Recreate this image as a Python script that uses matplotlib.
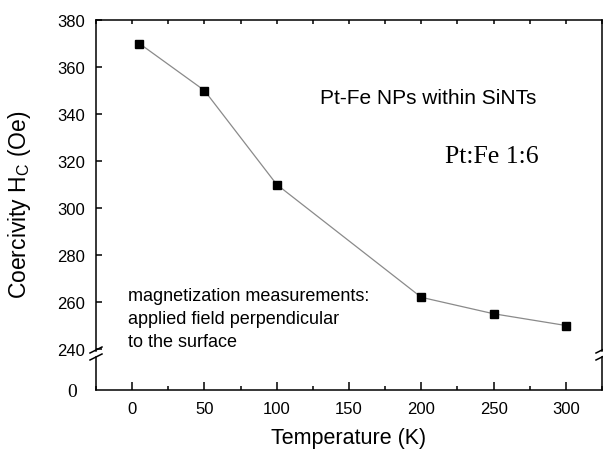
import matplotlib
matplotlib.use("Agg")
import matplotlib.pyplot as plt
from matplotlib.lines import Line2D
from matplotlib.ticker import MultipleLocator

temperature = [5, 50, 100, 200, 250, 300]
coercivity = [370, 350, 310, 262, 255, 250]
x_ticks = [0, 50, 100, 150, 200, 250, 300]
y_ticks = [240, 260, 280, 300, 320, 340, 360, 380]

plt.rcParams['font.family'] = ['Liberation Sans', 'DejaVu Sans']
plt.rcParams['mathtext.fontset'] = 'custom'
plt.rcParams['mathtext.rm'] = 'Liberation Sans'
plt.rcParams['mathtext.it'] = 'Liberation Sans:italic'

W, H = 603, 452
fig = plt.figure(figsize=(W / 100, H / 100), dpi=100)

left = 96 / W
width = (602 - 96) / W
ax = fig.add_axes([left, 1 - 352 / H, width, 331 / H])
axb = fig.add_axes([left, 1 - 391 / H, width, 33 / H])

lw = 1.1
for a in (ax, axb):
    for s in a.spines.values():
        s.set_linewidth(lw)
    a.set_xlim(-25, 325)

ax.plot(temperature, coercivity, color='#8a8a8a', lw=0.9, zorder=2)
ax.plot(temperature, coercivity, ls='none', marker='s', ms=5.5,
        color='black', zorder=3)
ax.set_ylim(239.15, 380)
ax.set_yticks(y_ticks)
ax.spines['bottom'].set_visible(False)
ax.tick_params(axis='y', direction='in', length=4.3, width=lw,
               labelsize=12, pad=8, right=False)
ax.xaxis.set_major_locator(MultipleLocator(50))
ax.xaxis.set_minor_locator(MultipleLocator(25))
ax.tick_params(axis='x', which='both', direction='in', bottom=False,
               top=True, labelbottom=False, length=3, width=lw)

axb.set_ylim(0, 14)
axb.set_yticks([0])
axb.set_yticklabels(['0'], family=['Liberation Serif'], fontsize=14)
axb.spines['top'].set_visible(False)
axb.tick_params(axis='y', direction='in', length=0, pad=14)
axb.set_xticks(x_ticks)
axb.xaxis.set_minor_locator(MultipleLocator(25))
axb.tick_params(axis='x', which='major', direction='in', length=5.8,
                width=lw, labelsize=12, pad=8)
axb.tick_params(axis='x', which='minor', direction='in', length=2.9,
                width=lw)

axb.set_xlabel('Temperature (K)', fontsize=15.5, labelpad=8)
ax.set_ylabel(r'Coercivity H$_\mathrm{C}$ (Oe)', fontsize=16.5)
ax.yaxis.set_label_coords(-0.124, 0.444)

# break marks
def px(x, y):
    return (x / W, 1 - y / H)

for xs in (96, 602):
    for yc in (351, 358):
        x0, y0 = px(xs - 6, yc + 3)
        x1, y1 = px(xs + 6, yc - 3)
        fig.add_artist(Line2D([x0, x1], [y0, y1], color='black', lw=1.1,
                              transform=fig.transFigure))

ax.text(204.7, 347.2, 'Pt-Fe NPs within SiNTs', fontsize=15,
        ha='center', va='center')
ax.text(248.9, 322, 'Pt:Fe 1:6', fontsize=18.5, ha='center', va='center',
        family=['Liberation Serif'])
notes = ['magnetization measurements:', 'applied field perpendicular',
         'to the surface']
for i, line in enumerate(notes):
    ax.text(-3.2, 262.6 - i * 23 / 2.35, line, fontsize=13,
            ha='left', va='center')

fig.savefig('out.png', dpi=100)
